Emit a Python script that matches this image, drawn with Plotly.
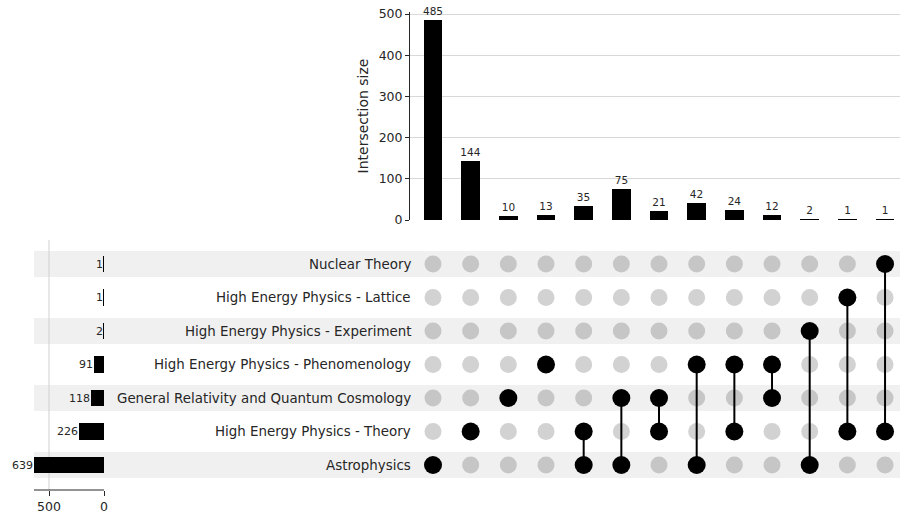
import plotly.graph_objects as go

# ---------------- data ----------------
set_names = ["Astrophysics", "High Energy Physics - Theory",
             "General Relativity and Quantum Cosmology",
             "High Energy Physics - Phenomenology",
             "High Energy Physics - Experiment",
             "High Energy Physics - Lattice", "Nuclear Theory"]
set_sizes = [639, 226, 118, 91, 2, 1, 1]

intersection_sizes = [485, 144, 10, 13, 35, 75, 21, 42, 24, 12, 2, 1, 1]
intersection_members = [
    ["Astrophysics"],
    ["High Energy Physics - Theory"],
    ["General Relativity and Quantum Cosmology"],
    ["High Energy Physics - Phenomenology"],
    ["High Energy Physics - Theory", "Astrophysics"],
    ["General Relativity and Quantum Cosmology", "Astrophysics"],
    ["General Relativity and Quantum Cosmology", "High Energy Physics - Theory"],
    ["High Energy Physics - Phenomenology", "Astrophysics"],
    ["High Energy Physics - Phenomenology", "High Energy Physics - Theory"],
    ["High Energy Physics - Phenomenology", "General Relativity and Quantum Cosmology"],
    ["High Energy Physics - Experiment", "Astrophysics"],
    ["High Energy Physics - Lattice", "High Energy Physics - Theory"],
    ["Nuclear Theory", "High Energy Physics - Theory"],
]
size_ticks = [0, 100, 200, 300, 400, 500]
set_size_ticks = [500, 0]

# ---------------- layout helpers ----------------
W, H = 900, 518
def px(x): return x / W
def py(y): return 1 - y / H

FONT = "DejaVu Sans"
TXT = "#262626"
n_cols = len(intersection_sizes)
n_rows = len(set_names)
cols = list(range(n_cols))
rows = list(range(n_rows))

fig = go.Figure()

# intersection size bars
fig.add_trace(go.Bar(
    x=cols, y=intersection_sizes, width=0.5, marker=dict(color="black", line=dict(width=0)),
    text=[str(v) for v in intersection_sizes], textposition="outside",
    textfont=dict(family=FONT, size=10.5, color=TXT), constraintext="none",
    cliponaxis=False, xaxis="x", yaxis="y", showlegend=False, hoverinfo="skip"))

# matrix: inactive dots
shaded = {r for r in rows if (n_rows - 1 - r) % 2 == 0}
for shade_flag, col in [(True, "#c6c6c6"), (False, "#d2d2d2")]:
    xs, ys = [], []
    for c in cols:
        for r in rows:
            if set_names[r] not in intersection_members[c] and ((r in shaded) == shade_flag):
                xs.append(c); ys.append(r)
    fig.add_trace(go.Scatter(x=xs, y=ys, mode="markers",
                             marker=dict(size=17, color=col, line=dict(width=0)),
                             xaxis="x2", yaxis="y2", showlegend=False, hoverinfo="skip"))

# matrix: connecting lines
lx, ly = [], []
for c in cols:
    rr = [set_names.index(m) for m in intersection_members[c]]
    if len(rr) > 1:
        lx += [c, c, None]; ly += [min(rr), max(rr), None]
fig.add_trace(go.Scatter(x=lx, y=ly, mode="lines", line=dict(color="black", width=2),
                         xaxis="x2", yaxis="y2", showlegend=False, hoverinfo="skip"))

# matrix: active dots
ax, ay = [], []
for c in cols:
    for m in intersection_members[c]:
        ax.append(c); ay.append(set_names.index(m))
fig.add_trace(go.Scatter(x=ax, y=ay, mode="markers",
                         marker=dict(size=18, color="black", line=dict(width=0)),
                         xaxis="x2", yaxis="y2", showlegend=False, hoverinfo="skip"))

# set size bars
fig.add_trace(go.Bar(
    y=rows, x=set_sizes, orientation="h", width=0.5,
    marker=dict(color="black", line=dict(width=0)),
    cliponaxis=False, xaxis="x3", yaxis="y2", showlegend=False, hoverinfo="skip"))

# left axis scale: 0.11 px per unit, 0 at pixel 104
x3_range_max = 104 / 0.11
axis_left_val = (104 - 34) / 0.11

# shading bands
shapes = []
for r in rows:
    if r in shaded:
        shapes.append(dict(type="rect", xref="paper", yref="y2", x0=px(34), x1=1,
                           y0=r - 0.39, y1=r + 0.39, fillcolor="#f0f0f0",
                           line=dict(width=0), layer="below"))
shapes.append(dict(type="line", xref="x3", yref="paper", x0=500, x1=500,
                   y0=py(490), y1=py(240), line=dict(color="#d0d0d0", width=1), layer="below"))
# bottom axis line of the set-size chart
shapes.append(dict(type="line", xref="x3", yref="paper", x0=axis_left_val, x1=0,
                   y0=py(490), y1=py(490), line=dict(color=TXT, width=1)))

annotations = []
for r in rows:
    annotations.append(dict(xref="paper", yref="y2", x=px(410), y=r, text=set_names[r],
                            xanchor="right", yanchor="middle", showarrow=False, xshift=3,
                            font=dict(family=FONT, size=13.4, color=TXT)))
    annotations.append(dict(xref="x3", yref="y2", x=set_sizes[r], y=r, text=str(set_sizes[r]),
                            xanchor="right", yanchor="middle", showarrow=False, xshift=1,
                            font=dict(family=FONT, size=11, color=TXT)))

x_lo = (410 - 433) / 37.67
x_hi = (900 - 433) / 37.67

fig.update_layout(
    width=W, height=H, margin=dict(l=0, r=0, t=0, b=0, autoexpand=False),
    paper_bgcolor="white", plot_bgcolor="rgba(0,0,0,0)",
    font=dict(family=FONT, size=12, color=TXT),
    shapes=shapes, annotations=annotations, bargap=0,
    xaxis=dict(domain=[px(410), 1], range=[x_lo, x_hi], visible=False, anchor="y",
               automargin=False),
    yaxis=dict(domain=[py(220), py(12)], range=[0, 500 * 208 / 206], anchor="x",
               tickvals=size_ticks, ticks="outside", ticklen=4, tickcolor=TXT,
               showline=True, linecolor=TXT, linewidth=1, showgrid=True,
               gridcolor="#d8d8d8", gridwidth=1, zeroline=False, automargin=False,
               tickfont=dict(family=FONT, size=12.5, color=TXT),
               title=dict(text="Intersection size", font=dict(family=FONT, size=14, color=TXT),
                          standoff=6)),
    xaxis2=dict(domain=[px(410), 1], range=[x_lo, x_hi], visible=False, anchor="y2",
                automargin=False),
    yaxis2=dict(domain=[py(490), py(240)], range=[(465 - 490) / 33.5, (465 - 240) / 33.5],
                visible=False, anchor="x2", automargin=False),
    xaxis3=dict(domain=[0, px(104)], range=[x3_range_max, 0], anchor="y2",
                side="bottom", tickvals=set_size_ticks, ticks="outside", ticklen=5,
                tickcolor=TXT, showline=False,
                showgrid=False, zeroline=False, automargin=False,
                tickfont=dict(family=FONT, size=12.5, color=TXT)),
)

fig.write_html("out.html", config={"displayModeBar": False},
               post_script="document.body.style.margin='0px';document.body.style.overflow='hidden';")
